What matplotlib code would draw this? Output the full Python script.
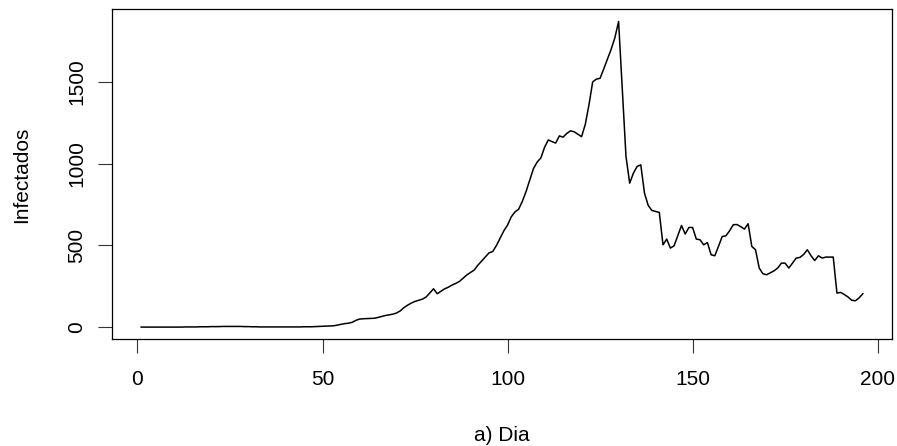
import numpy as np
from matplotlib import pyplot as plt

'''
    Infectados por dia (curva diaria).
'''

# dias 1..196
dias = list(range(1, 197))

# valores, de 10 em 10 dias
infectados = [
    1, 1, 1, 1, 1, 1, 1, 1, 1, 1,                           # 1-10
    1, 1, 2, 2, 2, 2, 3, 3, 3, 4,                           # 11-20
    4, 4, 5, 5, 5, 5, 5, 5, 4, 4,                           # 21-30
    3, 3, 2, 2, 2, 2, 2, 2, 2, 2,                           # 31-40
    2, 2, 2, 2, 3, 3, 3, 4, 5, 6,                           # 41-50
    7, 8, 9, 13, 18, 22, 25, 30, 42, 50,                    # 51-60
    52, 53, 54, 55, 60, 66, 72, 76, 80, 87,                 # 61-70
    100, 120, 135, 148, 158, 165, 172, 185, 210, 235,       # 71-80
    205, 220, 235, 245, 258, 268, 280, 300, 320, 335,       # 81-90
    350, 380, 405, 430, 455, 463, 500, 545, 590, 625,       # 91-100
    675, 705, 722, 770, 830, 900, 970, 1010, 1035, 1100,    # 101-110
    1145, 1135, 1126, 1170, 1162, 1185, 1201, 1195, 1180, 1165,  # 111-120
    1240, 1360, 1500, 1517, 1522, 1580, 1640, 1700, 1770, 1869,  # 121-130
    1460, 1044, 881, 942, 983, 993, 820, 745, 714, 708,     # 131-140
    702, 504, 539, 484, 498, 560, 622, 570, 610, 610,       # 141-150
    539, 535, 504, 518, 443, 437, 495, 555, 559, 590,       # 151-160
    627, 628, 615, 600, 633, 494, 474, 362, 327, 321,       # 161-170
    333, 345, 362, 392, 392, 362, 393, 423, 427, 445,       # 171-180
    474, 437, 408, 437, 423, 429, 429, 429, 209, 213,       # 181-190
    200, 185, 165, 162, 180, 205,                           # 191-196
]

x_ticks = [0, 50, 100, 150, 200]
y_ticks = [0, 500, 1000, 1500]


def display(x, y):
    plt.rcParams['font.family'] = ['Liberation Sans', 'DejaVu Sans']
    fig = plt.figure(figsize=(8.97, 4.46), dpi=100)
    ax = fig.add_axes([0.1252, 0.2392, 0.8689, 0.7399])

    ax.plot(x, y, color='black', linewidth=1.1)
    ax.margins(x=0.04, y=0.04)

    ax.set_xticks(x_ticks)
    ax.set_yticks(y_ticks)
    ax.tick_params(axis='both', length=10, width=0.8, color='#333333',
                   labelsize=15, direction='out')
    ax.tick_params(axis='x', pad=12)
    ax.tick_params(axis='y', pad=9)
    for lab in ax.get_yticklabels():
        lab.set_rotation(90)
        lab.set_va('center')

    for s in ax.spines.values():
        s.set_linewidth(0.9)
        s.set_color('black')

    ax.set_xlabel('a) Dia', fontsize=15)
    ax.set_ylabel('Infectados', fontsize=15)
    ax.xaxis.set_label_coords(0.5, -0.29)
    ax.xaxis.label.set_va('center')
    ax.yaxis.set_label_coords(-0.1159, 0.5)
    ax.yaxis.label.set_va('center')

    fig.savefig('out.png', dpi=100)


def main():
    display(np.array(dias), np.array(infectados))


if __name__ == '__main__':
    main()
